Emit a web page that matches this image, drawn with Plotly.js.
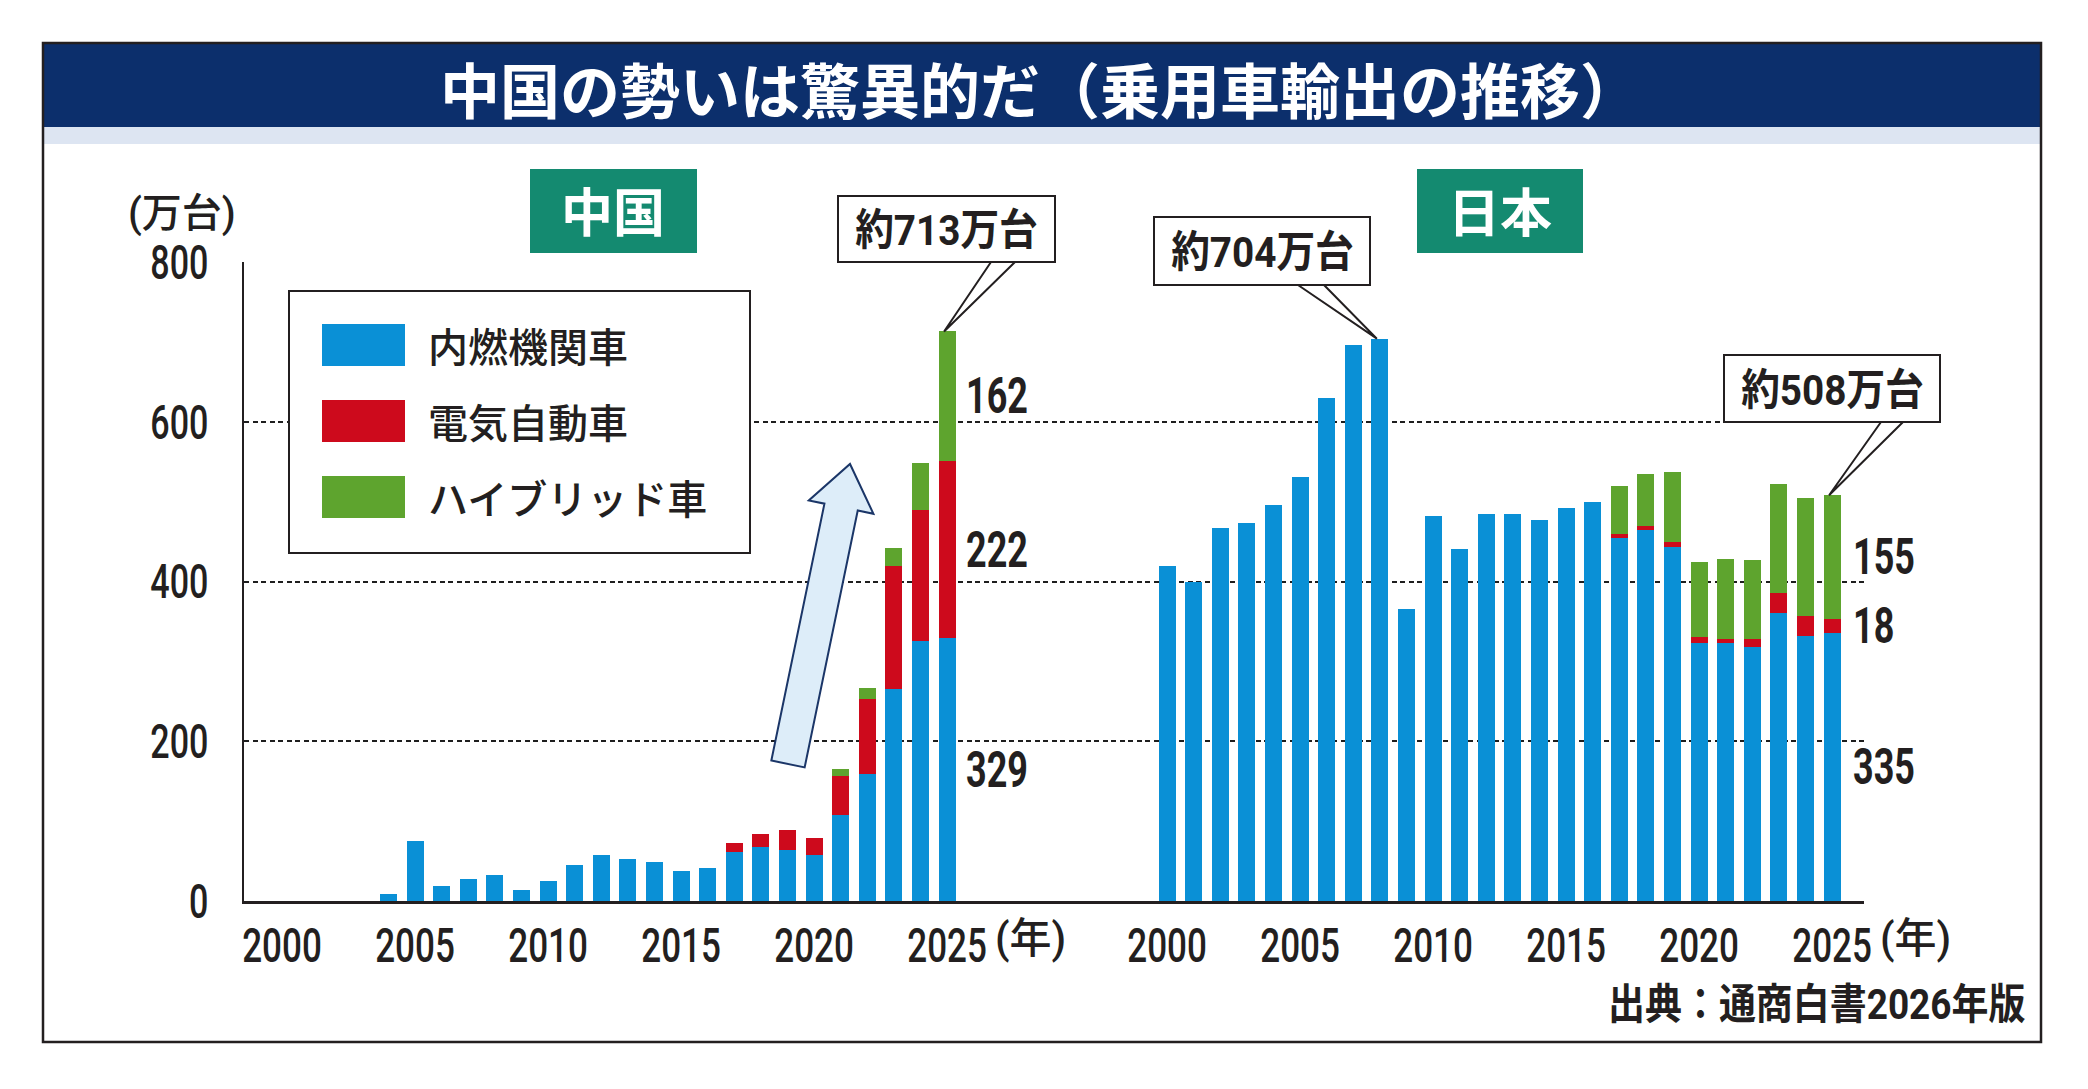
<!DOCTYPE html>
<html>
<head>
<meta charset="utf-8">
<script src="https://cdn.plot.ly/plotly-3.0.1.min.js"></script>
<style>html,body{margin:0;padding:0;background:#fff;}#chart{width:2088px;height:1089px;}</style>
</head>
<body>
<div id="chart"></div>
<script>
// ---------- data ----------
const years = [2000,2001,2002,2003,2004,2005,2006,2007,2008,2009,2010,2011,2012,2013,2014,2015,2016,2017,2018,2019,2020,2021,2022,2023,2024,2025];
const tickYears = [2000,2005,2010,2015,2020,2025];
const yTicks = [0,200,400,600,800];
const seriesNames = ['内燃機関車','電気自動車','ハイブリッド車'];
const seriesColors = ['#0a90d6','#cd0a1c','#5ea42e'];
const chinaICE = [null,null,null,null,9,75,19,28,33,14,25,45,57,53,49,37,41,61,68,64,57,108,159,266,325,329];
const chinaEV  = [null,null,null,null,null,null,null,null,null,null,null,null,null,null,null,null,null,11,16,25,22,48,94,154,165,222];
const chinaHV  = [null,null,null,null,null,null,null,null,null,null,null,null,null,null,null,null,null,null,null,null,null,9,14,22,58,162];
const japanICE = [419,400,467,473,496,531,630,696,704,365,482,441,484,484,477,492,499,454,465,443,323,323,318,360,332,335];
const japanEV  = [null,null,null,null,null,null,null,null,null,null,null,null,null,null,null,null,null,5,5,7,8,5,10,25,25,18];
const japanHV  = [null,null,null,null,null,null,null,null,null,null,null,null,null,null,null,null,null,61,65,87,94,100,99,137,148,155];
const titleText = '中国の勢いは驚異的だ（乗用車輸出の推移）';
const unitText = '(万台)';
const yearUnit = '(年)';
const sourceText = '出典：通商白書2026年版';
const panelNames = ['中国','日本'];

// ---------- geometry ----------
const W = 2088, H = 1089;
const L = 244, R = 1864, T = 262, B = 901;
const JP_OFFSET = 33.27;
const XR = [-1.43, 59.47];
const YR = [0, 800];
const INK = '#231f20';
const NUM = '"Roboto","Noto Sans CJK JP",sans-serif';
const CJK = '"Noto Sans CJK JP","Noto Sans",sans-serif';

const px2x = px => (px - L) / (R - L);
const py2y = py => (B - py) / (B - T);
const dx2px = x => L + (x - XR[0]) / (XR[1] - XR[0]) * (R - L);
const dy2py = y => B - (y - YR[0]) / (YR[1] - YR[0]) * (B - T);

const xChina = years.map(y => y - years[0]);
const xJapan = years.map(y => y - years[0] + JP_OFFSET);
const v = a => a.map(d => d == null ? 0 : d);

// ---------- traces ----------
const traces = [];
[[xChina,[chinaICE,chinaEV,chinaHV]],[xJapan,[japanICE,japanEV,japanHV]]].forEach(([xs, sets]) => {
  sets.forEach((ys, i) => {
    traces.push({type:'bar', x: xs, y: ys, name: seriesNames[i], width: 0.64,
      marker:{color: seriesColors[i], line:{width:0}}, showlegend:false, hoverinfo:'skip'});
  });
});

// ---------- shapes & annotations ----------
const shapes = [];
const ann = [];
const annSqueeze = [];
function addAnn(a, squeeze){ ann.push(a); annSqueeze.push(squeeze || 1); }
function rectPx(x0,y0,x1,y1,opt){
  shapes.push(Object.assign({type:'rect', xref:'paper', yref:'paper',
    x0:px2x(x0), x1:px2x(x1), y0:py2y(y1), y1:py2y(y0), layer:'above'}, opt));
}
function textPx(x,y,text,opt,squeeze){
  addAnn(Object.assign({xref:'paper', yref:'paper', x:px2x(x), y:py2y(y), text:text,
    showarrow:false, xanchor:'center', yanchor:'middle'}, opt), squeeze);
}

// frame, title bar
rectPx(43,43,2041,127,{fillcolor:'#0c2f6c', line:{width:0}, layer:'below'});
rectPx(43,127,2041,144,{fillcolor:'#dde5f2', line:{width:0}, layer:'below'});
rectPx(43,43,2041,1042,{fillcolor:'rgba(0,0,0,0)', line:{color:INK, width:2.5}, layer:'below'});
textPx(1040,87,'<b>'+titleText+'</b>',{font:{family:CJK, size:60, color:'#ffffff'}});

// panel labels
rectPx(530,169,697,253,{fillcolor:'#148a70', line:{width:0}});
textPx(613,210,'<b>'+panelNames[0]+'</b>',{font:{family:CJK, size:52, color:'#ffffff'}});
rectPx(1417,169,1583,253,{fillcolor:'#148a70', line:{width:0}});
textPx(1500,210,'<b>'+panelNames[1]+'</b>',{font:{family:CJK, size:52, color:'#ffffff'}});

// unit label
textPx(182,213,unitText,{font:{family:NUM, size:40, color:INK, weight:500}});

// legend
rectPx(289,291,750,553,{fillcolor:'#ffffff', line:{color:INK, width:2}});
[345,421,497].forEach((cy,i) => {
  rectPx(322,cy-21,405,cy+21,{fillcolor:seriesColors[i], line:{width:0}});
  textPx(426,cy,seriesNames[i],{xanchor:'left', align:'left', font:{family:CJK, size:40, color:INK, weight:500}});
});

// big arrow
(function(){
  const tail=[788,764], tip=[850,464];
  const dx=tip[0]-tail[0], dy=tip[1]-tail[1], len=Math.hypot(dx,dy);
  const u=[dx/len,dy/len], n=[-u[1],u[0]];
  const sw=17, hw=33, hl=44;
  const base=[tip[0]-hl*u[0], tip[1]-hl*u[1]];
  const pts=[
    [tail[0]-sw*n[0], tail[1]-sw*n[1]],
    [base[0]-sw*n[0], base[1]-sw*n[1]],
    [base[0]-hw*n[0], base[1]-hw*n[1]],
    tip,
    [base[0]+hw*n[0], base[1]+hw*n[1]],
    [base[0]+sw*n[0], base[1]+sw*n[1]],
    [tail[0]+sw*n[0], tail[1]+sw*n[1]]
  ];
  const path='M '+pts.map(p=>px2x(p[0])+','+py2y(p[1])).join(' L ')+' Z';
  shapes.push({type:'path', xref:'paper', yref:'paper', path:path, fillcolor:'#ddedf9',
    line:{color:'#1b3668', width:2}, layer:'above'});
})();

// callouts
function callout(box, baseX, barX, barTotal){
  const tipPx=[dx2px(barX)-3, dy2py(barTotal)];
  const p='M '+px2x(baseX[0])+','+py2y(box[3])+' L '+px2x(tipPx[0])+','+py2y(tipPx[1])+' L '+px2x(baseX[1])+','+py2y(box[3]);
  shapes.push({type:'path', xref:'paper', yref:'paper', path:p, fillcolor:'#ffffff', line:{color:INK,width:2}, layer:'above'});
  rectPx(box[0],box[1],box[2],box[3],{fillcolor:'#ffffff', line:{color:INK, width:2}});
  textPx((box[0]+box[2])/2,(box[1]+box[3])/2+1,'<b>約'+barTotal+'万台</b>',{font:{family:NUM, size:43, color:INK}}, 0.9);
}
const last = years.length-1;
const total = (a,b,c,i) => v(a)[i]+v(b)[i]+v(c)[i];
const japanPeakIdx = japanICE.indexOf(Math.max(...japanICE));
callout([838,196,1055,262],[991,1015], xChina[last], total(chinaICE,chinaEV,chinaHV,last));
callout([1154,217,1370,285],[1298,1324], xJapan[japanPeakIdx], total(japanICE,japanEV,japanHV,japanPeakIdx));
callout([1724,355,1940,422],[1881,1903], xJapan[last], total(japanICE,japanEV,japanHV,last));

// segment value labels for last year
function segLabels(xv, sets, shift){
  let base=0;
  sets.forEach(s => {
    const val=s[last];
    addAnn({xref:'x', yref:'y', x:xv, y:base+val/2, text:'<b>'+val+'</b>', showarrow:false,
      xanchor:'left', align:'left', yanchor:'middle', xshift:shift, font:{family:NUM, size:50, color:INK}}, 0.72);
    base+=val;
  });
}
segLabels(xChina[last],[chinaICE,chinaEV,chinaHV],17);
segLabels(xJapan[last],[japanICE,japanEV,japanHV],19);

// (年) units
[xChina[last], xJapan[last]].forEach(xv => {
  addAnn({xref:'x', yref:'paper', x:xv, y:py2y(938), text:yearUnit, showarrow:false,
    xanchor:'left', align:'left', yanchor:'middle', xshift:46, font:{family:NUM, size:42, color:INK, weight:500}}, 1);
});

// source
textPx(2027,1005,'<b>'+sourceText+'</b>',{xanchor:'right', align:'right', font:{family:NUM, size:42, color:INK}}, 0.88);

// ---------- layout ----------
const tickvals = tickYears.map(y => y - years[0]).concat(tickYears.map(y => y - years[0] + JP_OFFSET));
const ticktext = tickYears.concat(tickYears).map(String);

const layout = {
  width: W, height: H,
  margin: {l: L, r: W - R, t: T, b: H - B, pad: 0},
  paper_bgcolor: '#ffffff', plot_bgcolor: 'rgba(0,0,0,0)',
  barmode: 'stack', showlegend: false, hovermode: false,
  xaxis: {range: XR, tickvals: tickvals, ticktext: ticktext, showgrid: false, zeroline: false,
    showline: true, linecolor: INK, linewidth: 2.5, ticks: 'outside', ticklen: 1, tickcolor: 'rgba(0,0,0,0)',
    tickfont: {family: NUM, size: 48, color: INK, weight: 500}, fixedrange: true},
  yaxis: {range: YR, tickvals: yTicks, showgrid: true, gridcolor: '#1e1e1e', gridwidth: 2,
    griddash: '5px,3.5px', zeroline: false, showline: true, linecolor: INK, linewidth: 2,
    ticks: 'outside', ticklen: 24, tickcolor: 'rgba(0,0,0,0)',
    tickfont: {family: NUM, size: 48, color: INK, weight: 500}, fixedrange: true},
  shapes: shapes,
  annotations: ann
};

// horizontal condensing of text (the reference uses a condensed typeface)
function squeeze(el, f){
  if (!el || f === 1) return;
  const x = parseFloat(el.getAttribute('x')) || 0;
  const t = el.getAttribute('transform') || '';
  el.setAttribute('transform', (t + ' translate(' + x + ',0) scale(' + f + ',1) translate(' + (-x) + ',0)').trim());
}

const gd = document.getElementById('chart');
Plotly.newPlot(gd, traces, layout, {staticPlot: true, displayModeBar: false}).then(() => {
  gd.querySelectorAll('g.xtick text').forEach(t => squeeze(t, 0.73));
  gd.querySelectorAll('g.ytick text').forEach(t => squeeze(t, 0.71));
  gd.querySelectorAll('g.annotation').forEach(g => {
    const i = +g.getAttribute('data-index');
    const f = annSqueeze[i];
    if (f && f !== 1) squeeze(g.querySelector('text.annotation-text'), f);
  });
});
</script>
</body>
</html>
